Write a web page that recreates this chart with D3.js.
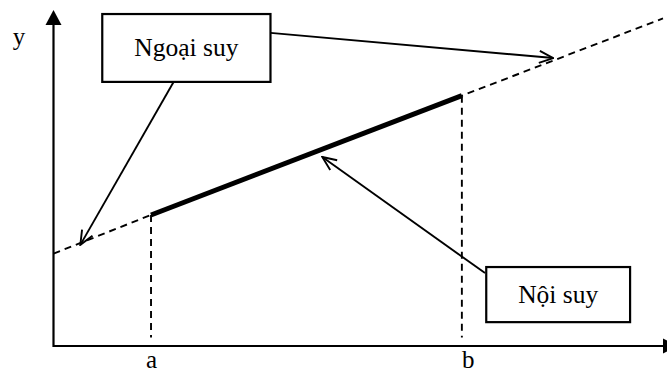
<!DOCTYPE html>
<html><head><meta charset="utf-8">
<script src="https://cdn.jsdelivr.net/npm/d3@7"></script>
<style>body{margin:0;background:#fff}svg{display:block}</style>
</head><body>
<svg id="c" width="667" height="372"></svg>
<script>
// ---- data (abstract units 0..100) ----
const lineX = [0, 16, 67, 100];          // y-axis, a, b, right end
const lineY = [27.5, 39, 74.5, 97.5];    // extrapolation/interpolation line
const interpRange = [16, 67];             // a .. b
const tickLabels = ["a", "b"];
const boxLabels = ["Ngoại suy", "Nội suy"];
const boxX0 = [8.0, 71.0];
const boxX1 = [35.6, 94.6];
const boxYTop = [98.8, 23.5];
const boxYBot = [78.6, 7.1];
const arrowFromX = [35.6, 19.7, 70.8];
const arrowFromY = [93.2, 78.6, 21.7];
const arrowToX = [82.0, 4.4, 44.1];
const arrowToY = [85.7, 30.1, 56.25];

const FONT = "'Liberation Serif', 'DejaVu Serif', serif";
const svg = d3.select("#c");
const x = d3.scaleLinear().domain([0, 100]).range([53.5, 663]);
const y = d3.scaleLinear().domain([0, 100]).range([346, 10]);

const defs = svg.append("defs");
defs.append("marker").attr("id", "open").attr("markerUnits", "userSpaceOnUse")
  .attr("viewBox", "0 0 16 14").attr("refX", 15).attr("refY", 7)
  .attr("markerWidth", 16).attr("markerHeight", 14).attr("orient", "auto")
  .append("path").attr("d", "M1,1 L15,7 L1,13").attr("fill", "none")
  .attr("stroke", "#000").attr("stroke-width", 1.9);

// axes
const xAxis = d3.axisBottom(x).tickValues(interpRange).tickFormat((d, i) => tickLabels[i]).tickSize(0).tickPadding(4);
const gx = svg.append("g").attr("transform", `translate(0,${y(0)})`).call(xAxis)
  .attr("font-family", FONT).attr("font-size", 25);
gx.select(".domain").remove();
gx.selectAll("text").attr("fill", "#000");
gx.selectAll("text").filter((d, i) => i === 1).attr("dx", 6);

svg.append("line").attr("x1", x(0)).attr("x2", 667).attr("y1", y(0)).attr("y2", y(0))
  .attr("stroke", "#000").attr("stroke-width", 2.2);
svg.append("path").attr("d", `M663,${y(0) - 7.5} L678,${y(0)} L663,${y(0) + 7.5}Z`).attr("fill", "#000");
svg.append("line").attr("x1", x(0)).attr("x2", x(0)).attr("y1", y(0) + 1).attr("y2", 22)
  .attr("stroke", "#000").attr("stroke-width", 2.2);
svg.append("path").attr("d", `M${x(0)},${y(100)} L${x(0) + 8},25 L${x(0) - 8},25Z`).attr("fill", "#000");
svg.append("text").attr("x", 19).attr("y", 44.5).attr("text-anchor", "middle")
  .attr("font-family", FONT).attr("font-size", 25).text("y");

// dashed full line
const pts = lineX.map((d, i) => [d, lineY[i]]);
const lineGen = d3.line().x(d => x(d[0])).y(d => y(d[1]));
svg.append("path").attr("d", lineGen(pts)).attr("fill", "none").attr("stroke", "#000")
  .attr("stroke-width", 1.9).attr("stroke-dasharray", "7,5");
// solid interpolation segment
svg.append("path").attr("d", lineGen(pts.slice(1, 3))).attr("fill", "none").attr("stroke", "#000")
  .attr("stroke-width", 5);
// dashed verticals
interpRange.forEach((v) => {
  const yy = lineY[lineX.indexOf(v)];
  svg.append("line").attr("x1", x(v)).attr("x2", x(v)).attr("y1", y(yy)).attr("y2", y(2.5))
    .attr("stroke", "#000").attr("stroke-width", 1.9).attr("stroke-dasharray", "7,5");
});

// arrows
arrowFromX.forEach((d, i) => {
  svg.append("line").attr("x1", x(d)).attr("y1", y(arrowFromY[i]))
    .attr("x2", x(arrowToX[i])).attr("y2", y(arrowToY[i]))
    .attr("stroke", "#000").attr("stroke-width", 1.9).attr("marker-end", "url(#open)");
});

// boxes
boxLabels.forEach((t, i) => {
  svg.append("rect").attr("x", x(boxX0[i])).attr("y", y(boxYTop[i]))
    .attr("width", x(boxX1[i]) - x(boxX0[i])).attr("height", y(boxYBot[i]) - y(boxYTop[i]))
    .attr("fill", "#fff").attr("stroke", "#000").attr("stroke-width", 2.2);
  svg.append("text").attr("x", (x(boxX0[i]) + x(boxX1[i])) / 2)
    .attr("y", (y(boxYTop[i]) + y(boxYBot[i])) / 2 + 8.5)
    .attr("text-anchor", "middle").attr("font-family", FONT).attr("font-size", 25.5).text(t);
});
</script>
</body></html>
